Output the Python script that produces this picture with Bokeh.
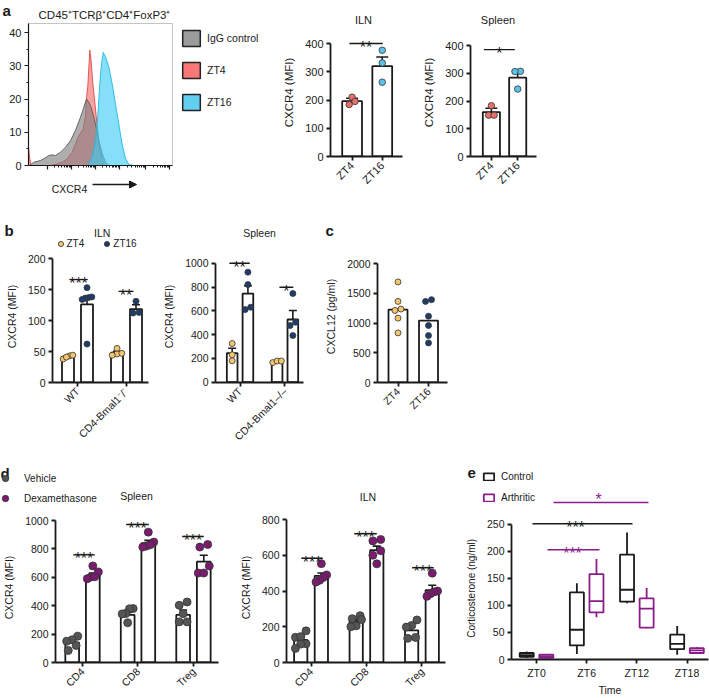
import math
from bokeh.plotting import figure
from bokeh.layouts import row, column
from bokeh.models import (Label, Legend, LegendItem, FixedTicker, Range1d,
                          Whisker, TeeHead, ColumnDataSource, Arrow, NormalHead)
from bokeh.embed import file_html
from bokeh.resources import INLINE

# ======================= DATA =======================
# a - flow cytometry histogram (CXCR4 channel, counts)
hist_igg_x = [9, 37, 83, 106, 141, 164, 188, 222, 257, 292, 326, 361, 384, 403, 419, 435, 454, 470, 488, 512, 535, 558]
hist_igg_y = [0, 1, 1.5, 2, 3, 3.2, 3, 4, 5.5, 7.5, 10.5, 14.5, 17.5, 20, 19, 17.5, 14.5, 11.5, 7.5, 3.5, 1, 0]
hist_zt4_x = [0, 9, 19, 153, 199, 234, 269, 303, 326, 350, 380, 396, 403, 412, 426, 435, 444, 458, 477, 493, 512, 528]
hist_zt4_y = [5.5, 2, 0, 0, 0.5, 1, 2, 4, 6.5, 9, 11, 15, 20.5, 24, 34.7, 31.5, 26, 20, 12, 5.5, 1.5, 0]
hist_zt16_x = [412, 442, 465, 481, 495, 507, 519, 535, 558, 581, 604, 627, 650, 674, 697, 731, 1000]
hist_zt16_y = [0, 2.5, 7.5, 14.5, 24.6, 30.6, 34, 32.7, 29.6, 24.6, 18.6, 12.5, 6.5, 2, 0.3, 0, 0]
hist_names = ["IgG control", "ZT4", "ZT16"]

# a - CXCR4 MFI
a_times = ["ZT4", "ZT16"]
a_iln_mean = [196, 320]
a_iln_sem = [10, 32]
a_iln_points = [[184, 210, 195], [376, 331, 263]]
a_spleen_mean = [160, 284]
a_spleen_sem = [14, 24]
a_spleen_points = [[183, 149, 149], [307, 306, 243]]

# b - WT vs CD4-Bmal1 KO
b_series = ["ZT4", "ZT16"]
b_iln_genotypes = ["WT", "CD4-Bmal1\u207b/\u207b"]
b_spleen_genotypes = ["WT", "CD4-Bmal1\u2013/\u2013"]
b_iln_zt4_mean = [41.5, 48]
b_iln_zt4_sem = [1.5, 2.5]
b_iln_zt16_mean = [126, 118.5]
b_iln_zt16_sem = [13, 7]
b_iln_zt4_points = [[38, 43, 44, 41], [55, 46, 47, 44]]
b_iln_zt16_points = [[62, 153, 137, 138, 136, 134], [131, 113, 112]]
b_spleen_zt4_mean = [245, 172]
b_spleen_zt4_sem = [40, 5]
b_spleen_zt16_mean = [745, 527]
b_spleen_zt16_sem = [65, 75]
b_spleen_zt4_points = [[325, 230, 180], [165, 178, 178]]
b_spleen_zt16_points = [[925, 820, 610, 630], [745, 504, 476, 392]]

# c - CXCL12
c_times = ["ZT4", "ZT16"]
c_mean = [1225, 1040]
c_points = [[1690, 1363, 1211, 1234, 1082, 834], [1363, 1392, 1115, 958, 789, 665]]

# d - vehicle vs dexamethasone
d_series = ["Vehicle", "Dexamethasone"]
d_cells = ["CD4", "CD8", "Treg"]
d_spleen_veh_mean = [140, 335, 335]
d_spleen_veh_sem = [18, 18, 35]
d_spleen_dex_mean = [612, 840, 710]
d_spleen_dex_sem = [18, 20, 45]
d_spleen_veh_points = [[185, 160, 150, 120, 85], [380, 378, 345, 342, 280], [426, 403, 344, 286, 286]]
d_spleen_dex_points = [[680, 637, 602, 603, 590], [918, 848, 820, 829, 813], [813, 831, 680, 630, 630]]
d_iln_veh_mean = [127, 229, 180]
d_iln_veh_sem = [15, 12, 20]
d_iln_dex_mean = [485, 629, 405]
d_iln_dex_sem = [16, 22, 27]
d_iln_veh_points = [[177, 141, 144, 105, 103, 79], [262, 245, 240, 205, 200], [238, 207, 198, 140, 135]]
d_iln_dex_points = [[553, 490, 475, 460, 450], [680, 688, 625, 600, 552], [500, 400, 395, 385, 370]]

# e - corticosterone box plots: [min, q1, median, q3, max]
e_times = ["ZT0", "ZT6", "ZT12", "ZT18"]
e_groups = ["Control", "Arthritic"]
e_control = [[3, 5, 8, 12, 15], [10, 26, 55, 124, 141], [104, 107, 129, 194, 235], [9, 19, 29, 46, 62]]
e_arthritic = [[2, 3, 6, 9, 10], [78, 87, 108, 158, 186], [58, 59, 94, 113, 132], [10, 12, 17, 21, 23]]

# ======================= STYLE / LAYOUT =======================
FONT = "Liberation Sans"
INK = "#1a1a1a"
PURPLE = "#8a1d8a"
RED_DOT, BLUE_DOT = "#e8706c", "#5cc2ea"
YEL, NAVY = "#f3c56e", "#1f3d6b"
GREY_DOT, DEX = "#555555", "#7b1b6f"
FAR = -1.0e7   # legend-only renderers live far outside every visible range


class Panel:
    """Maps page-pixel geometry to a Bokeh figure with axes."""

    def __init__(self, fig_box, frame_box, xcal, ycal):
        self.fb, self.gb = fig_box, frame_box
        (px0, vx0), (px1, vx1) = xcal
        (py0, vy0), (py1, vy1) = ycal
        self.kx = (vx1 - vx0) / (px1 - px0)
        self.ky = (vy1 - vy0) / (py1 - py0)
        self.px0, self.vx0, self.py0, self.vy0 = px0, vx0, py0, vy0

    def X(self, px):
        return self.vx0 + (px - self.px0) * self.kx

    def Y(self, py):
        return self.vy0 + (py - self.py0) * self.ky

    def ux(self, dpx):
        return dpx * abs(self.kx)

    def fig(self):
        fx0, fy0, fx1, fy1 = self.fb
        gx0, gy0, gx1, gy1 = self.gb
        W, H = fx1 - fx0, fy1 - fy0
        left, top = gx0 - fx0, gy0 - fy0
        fw, fh = gx1 - gx0, gy1 - gy0
        p = figure(width=W, height=H, output_backend="svg", toolbar_location=None,
                   x_range=Range1d(self.X(gx0), self.X(gx1)),
                   y_range=Range1d(self.Y(gy1), self.Y(gy0)),
                   min_border_left=left, min_border_top=top,
                   min_border_right=W - left - fw, min_border_bottom=H - top - fh)
        p.grid.visible = False
        p.outline_line_color = None
        p.background_fill_color = None
        p.border_fill_color = None
        for ax in p.axis:
            ax.axis_line_color = INK
            ax.axis_line_width = 1.8
            ax.major_tick_line_color = INK
            ax.major_tick_line_width = 1.8
            ax.major_tick_out = 4
            ax.major_tick_in = 0
            ax.minor_tick_line_color = None
            ax.major_label_text_font = FONT
            ax.major_label_text_font_size = "10.5px"
            ax.major_label_text_color = INK
            ax.major_label_standoff = 3
            ax.axis_label_text_font = FONT
            ax.axis_label_text_font_size = "10.5px"
            ax.axis_label_text_font_style = "normal"
            ax.axis_label_text_color = INK
            ax.axis_label_standoff = 7
        return p


class TextArea:
    """A blank figure whose frame is a page rectangle, used for titles and legends."""

    def __init__(self, x0, y0, x1, y1):
        self.box = (x0, y0, x1, y1)
        t = figure(width=x1 - x0, height=y1 - y0, output_backend="svg",
                   toolbar_location=None, x_range=Range1d(x0, x1), y_range=Range1d(y1, y0),
                   x_axis_type=None, y_axis_type=None, min_border_left=0,
                   min_border_right=0, min_border_top=0, min_border_bottom=0)
        t.outline_line_color = None
        t.background_fill_color = None
        t.border_fill_color = None
        self.p = t

    def text(self, x, y, s, size=10.5, align="center", bold=False, color=INK):
        self.p.add_layout(Label(x=x, y=y, text=s, text_font=FONT, text_font_size=f"{size}px",
                                text_align=align, text_baseline="alphabetic", text_color=color,
                                text_font_style="bold" if bold else "normal"))

    def legend(self, items, left, top, orientation="vertical", gw=20, gh=20, spacing=10,
               standoff=5, size="10px"):
        x0, y0, x1, y1 = self.box
        n = len(items)
        h = n * gh + (n - 1) * spacing if orientation == "vertical" else gh
        lg = Legend(items=[LegendItem(label=t, renderers=[r]) for t, r in items],
                    location=(left - x0, (y1 - top) - h), orientation=orientation,
                    glyph_width=gw, glyph_height=gh, spacing=spacing,
                    label_standoff=standoff, padding=0, margin=0, border_line_color=None,
                    background_fill_alpha=0, label_text_font=FONT, label_text_font_size=size,
                    label_text_color=INK, label_height=min(gh, 10), label_width=0)
        self.p.add_layout(lg)

    def quad(self, fill, line, lw):
        return self.p.quad(left=[FAR], right=[FAR + 1], top=[FAR + 1], bottom=[FAR],
                           fill_color=fill, line_color=line, line_width=lw)

    def dot(self, fill, size):
        return self.p.scatter(x=[FAR], y=[FAR], size=size, fill_color=fill,
                              line_color="#333333", line_width=0.8)


def sig(p, x0, x1, y, stars, color=INK, tx=None, size=16, star_y=None):
    p.segment(x0=[x0], y0=[y], x1=[x1], y1=[y], line_color=color, line_width=1.4)
    if star_y is None:
        lab = Label(x=(x0 + x1) / 2 if tx is None else tx, y=y, text=stars,
                    text_font=FONT, text_font_size=f"{size}px", text_align="center",
                    text_baseline="alphabetic", y_offset=-4, text_color=color)
    else:
        lab = Label(x=(x0 + x1) / 2 if tx is None else tx, y=star_y, text=stars,
                    text_font=FONT, text_font_size=f"{size}px", text_align="center",
                    text_baseline="middle", text_color=color)
    p.add_layout(lab)


def swarm(vals, px_per_unit, diam, max_half):
    order = sorted(range(len(vals)), key=lambda i: vals[i])
    rows = []
    for i in order:
        if rows and (vals[i] - vals[rows[-1][0]]) * px_per_unit < diam * 0.9:
            rows[-1].append(i)
        else:
            rows.append([i])
    offs = [0.0] * len(vals)
    for r in rows:
        n = len(r)
        if n == 1:
            continue
        step = min(diam, 2 * max_half / (n - 1))
        for j, i in enumerate(r):
            offs[i] = (j - (n - 1) / 2) * step
    return offs


def bar_set(p, F, xs, means, sems, points, dot_color, bar_w_px, dot_px,
            cap_px=9, dot_line="#333333"):
    bw = F.ux(bar_w_px)
    p.vbar(x=xs, top=means, bottom=0, width=bw, fill_color="white",
           line_color=INK, line_width=1.8)
    if sems is not None:
        src = ColumnDataSource(dict(x=xs, lo=means, hi=[m + s for m, s in zip(means, sems)]))
        p.add_layout(Whisker(source=src, base="x", lower="lo", upper="hi",
                             line_color=INK, line_width=1.6,
                             upper_head=TeeHead(size=cap_px, line_color=INK, line_width=1.6),
                             lower_head=None))
    ppu = 1 / abs(F.ky)
    for x, vals in zip(xs, points):
        offs = swarm(vals, ppu, dot_px, bar_w_px * 0.4)
        p.scatter(x=[x + F.ux(o) for o in offs], y=vals, size=dot_px,
                  fill_color=dot_color, line_color=dot_line, line_width=0.8)


def cat_axis(p, labels, rotate=True):
    p.xaxis.ticker = FixedTicker(ticks=list(range(1, len(labels) + 1)))
    p.xaxis.major_label_overrides = {i + 1: lab for i, lab in enumerate(labels)}
    if rotate:
        p.xaxis.major_label_orientation = math.pi / 4


# ================= ROW 1 : panel a =================
TA_head = TextArea(0, 0, 280, 22)
TA_head.text(2, 10, "a", size=15, align="left", bold=True)
TA_head.text(104, 14.5, "CD45\u207aTCR\u03b2\u207aCD4\u207aFoxP3\u207a", size=11.5)

FA1 = Panel((0, 22, 178, 180), (28, 23, 172, 165), ((28, 0), (172, 1000)), ((165, 0), (32, 40)))
pA1 = FA1.fig()
pA1.outline_line_color = "#c4c4c4"
pA1.outline_line_width = 1
pA1.varea(x=hist_zt4_x, y1=0, y2=hist_zt4_y, fill_color="#f26b6b", fill_alpha=0.62)
pA1.line(hist_zt4_x, hist_zt4_y, line_color="#e04848", line_width=0.9)
pA1.varea(x=hist_igg_x, y1=0, y2=hist_igg_y, fill_color="#7d7d7d", fill_alpha=0.62)
pA1.line(hist_igg_x, hist_igg_y, line_color="#5a5a5a", line_width=0.9)
pA1.varea(x=hist_zt16_x, y1=0, y2=hist_zt16_y, fill_color="#3ccbf4", fill_alpha=0.62)
pA1.line(hist_zt16_x, hist_zt16_y, line_color="#25b5e0", line_width=0.9)
majors = [130, 300, 465, 630, 815, 980]
minors = []
for a, b in zip(majors[:-1], majors[1:]):
    minors += [a + math.log10(k) * (b - a) for k in range(2, 10)]
pA1.xaxis.ticker = FixedTicker(ticks=majors, minor_ticks=minors)
pA1.xaxis.major_label_overrides = {t: "" for t in majors}
pA1.xaxis.major_label_text_font_size = "8px"
pA1.xaxis.major_label_standoff = 0
pA1.xaxis.minor_tick_line_color = INK
pA1.xaxis.minor_tick_out = 2
pA1.xaxis.minor_tick_in = 0
pA1.xaxis.major_tick_line_width = 1.2
pA1.xaxis.minor_tick_line_width = 1
pA1.xaxis.axis_line_width = 1.2
pA1.yaxis.ticker = FixedTicker(ticks=[0, 10, 20, 30, 40], minor_ticks=[5, 15, 25, 35])
pA1.yaxis.minor_tick_line_color = INK
pA1.yaxis.minor_tick_out = 2
pA1.yaxis.minor_tick_in = 0
pA1.yaxis.axis_line_width = 1.2
pA1.yaxis.major_tick_line_width = 1.2
pA1.yaxis.major_label_text_font_size = "11px"

TA_arrow = TextArea(0, 180, 178, 200)
TA_arrow.text(69, 188, "CXCR4", size=10.5)
TA_arrow.p.add_layout(Arrow(end=NormalHead(size=7, fill_color=INK, line_color=INK),
                            x_start=92, y_start=184, x_end=136, y_end=184,
                            line_color=INK, line_width=1.5))

TA_leg = TextArea(178, 22, 280, 200)
leg_cols = ["#9b9b9b", "#f87878", "#62cff0"]
TA_leg.legend(list(zip(hist_names, [TA_leg.quad(c, "#222222", 1.5) for c in leg_cols])),
              180, 28, gw=22, gh=20, spacing=12, standoff=5, size="10.5px")

TA2_head = TextArea(280, 0, 420, 28)
TA2_head.text(363, 19.3, "ILN", size=11)
FA2 = Panel((280, 28, 420, 200), (322, 28, 402, 156), ((346, 1), (379.5, 2)), ((156, 0), (43, 400)))
pA2 = FA2.fig()
for i, col in enumerate([RED_DOT, BLUE_DOT]):
    bar_set(pA2, FA2, [i + 1], [a_iln_mean[i]], [a_iln_sem[i]], [a_iln_points[i]], col, 22, 6.5, cap_px=12)
cat_axis(pA2, a_times)
pA2.yaxis.ticker = FixedTicker(ticks=[0, 100, 200, 300, 400])
pA2.yaxis.bounds = (0, 400)
pA2.yaxis.axis_label = "CXCR4 (MFI)"
pA2.yaxis.axis_label_text_font_size = "11.5px"
pA2.yaxis.major_label_text_font_size = "11px"
pA2.xaxis.major_label_text_font_size = "11px"
sig(pA2, FA2.X(343), FA2.X(380), 400, "**")

TA3_head = TextArea(420, 0, 709, 28)
TA3_head.text(497.5, 19.3, "Spleen", size=11)
FA3 = Panel((420, 28, 709, 200), (457, 28, 536, 156), ((482, 1), (513.5, 2)), ((156, 0), (45, 400)))
pA3 = FA3.fig()
for i, col in enumerate([RED_DOT, BLUE_DOT]):
    bar_set(pA3, FA3, [i + 1], [a_spleen_mean[i]], [a_spleen_sem[i]], [a_spleen_points[i]], col, 20.5, 6.5, cap_px=12)
cat_axis(pA3, a_times)
pA3.yaxis.ticker = FixedTicker(ticks=[0, 100, 200, 300, 400])
pA3.yaxis.bounds = (0, 400)
pA3.yaxis.axis_label = "CXCR4 (MFI)"
pA3.yaxis.axis_label_text_font_size = "11.5px"
pA3.yaxis.major_label_text_font_size = "11px"
pA3.xaxis.major_label_text_font_size = "11px"
sig(pA3, FA3.X(473), FA3.X(510), 385, "*")

# ================= ROW 2 : panels b, c =================
TB1_head = TextArea(0, 200, 160, 250)
TB1_head.text(4, 230, "b", size=15, align="left", bold=True)
TB1_head.text(101.7, 232.7, "ILN", size=10.5)
TB1_head.legend(list(zip(b_series, [TB1_head.dot(YEL, 6), TB1_head.dot(NAVY, 6)])), 53.5, 236.5,
                orientation="horizontal", gw=13, gh=13, spacing=16, standoff=0, size="10px")
FB1 = Panel((0, 250, 160, 455), (52, 250, 148, 382), ((77, 1), (126, 2)), ((382, 0), (258, 200)))
pB1 = FB1.fig()
off = FB1.ux(9.5)
bar_set(pB1, FB1, [1 - off, 2 - off], b_iln_zt4_mean, b_iln_zt4_sem, b_iln_zt4_points, YEL, 12, 6, cap_px=8)
bar_set(pB1, FB1, [1 + off, 2 + off], b_iln_zt16_mean, b_iln_zt16_sem, b_iln_zt16_points, NAVY, 12, 6, cap_px=8)
cat_axis(pB1, b_iln_genotypes)
pB1.yaxis.ticker = FixedTicker(ticks=[0, 50, 100, 150, 200])
pB1.yaxis.bounds = (0, 200)
pB1.yaxis.axis_label = "CXCR4 (MFI)"
sig(pB1, FB1.X(69), FB1.X(87), 166, "***")
sig(pB1, FB1.X(118), FB1.X(133), 147, "**")

TB2_head = TextArea(160, 200, 320, 250)
TB2_head.text(259, 232.7, "Spleen", size=10.5)
FB2 = Panel((160, 250, 320, 455), (208, 250, 303, 382), ((234.5, 1), (283, 2)), ((381.7, 0), (262.7, 1000)))
pB2 = FB2.fig()
off = FB2.ux(8.5)
bar_set(pB2, FB2, [1 - off, 2 - off], b_spleen_zt4_mean, b_spleen_zt4_sem, b_spleen_zt4_points, YEL, 11.5, 6, cap_px=8)
bar_set(pB2, FB2, [1 + off, 2 + off], b_spleen_zt16_mean, b_spleen_zt16_sem, b_spleen_zt16_points, NAVY, 11.5, 6, cap_px=8)
cat_axis(pB2, b_spleen_genotypes)
pB2.yaxis.ticker = FixedTicker(ticks=[0, 200, 400, 600, 800, 1000])
pB2.yaxis.bounds = (0, 1000)
pB2.yaxis.axis_label = "CXCR4 (MFI)"
sig(pB2, FB2.X(223), FB2.X(245), 1000, "**")
sig(pB2, FB2.X(277), FB2.X(292), 798, "*")

TC_head = TextArea(320, 200, 709, 250)
TC_head.text(325, 230, "c", size=15, align="left", bold=True)
FC = Panel((320, 250, 709, 455), (377, 250, 447, 382), ((397.5, 1), (428, 2)), ((382, 0), (263, 2000)))
pC = FC.fig()
for i, col in enumerate([YEL, NAVY]):
    bar_set(pC, FC, [i + 1], [c_mean[i]], None, [c_points[i]], col, 19, 6)
cat_axis(pC, c_times)
pC.yaxis.ticker = FixedTicker(ticks=[0, 500, 1000, 1500, 2000])
pC.yaxis.bounds = (0, 2000)
pC.yaxis.axis_label = "CXCL12 (pg/ml)"

# ================= ROW 3 : panels d, e =================
TD_head = TextArea(0, 455, 460, 512)
TD_head.text(0, 473, "d", size=15, align="left", bold=True)
TD_head.text(136, 495, "Spleen", size=10.5)
TD_head.text(367.5, 496.7, "ILN", size=10.5)
TD_head.legend(list(zip(d_series, [TD_head.dot(GREY_DOT, 8), TD_head.dot(DEX, 8)])), -3, 470,
               gw=16, gh=16, spacing=4, standoff=11, size="10px")

xs = [1, 2, 3]
FD1 = Panel((0, 512, 236, 698), (52, 512, 218, 662), ((79.5, 1), (192.5, 3)), ((662, 0), (520, 1000)))
pD1 = FD1.fig()
off = FD1.ux(10.5)
bar_set(pD1, FD1, [x - off for x in xs], d_spleen_veh_mean, d_spleen_veh_sem, d_spleen_veh_points, GREY_DOT, 14, 8, cap_px=8)
bar_set(pD1, FD1, [x + off for x in xs], d_spleen_dex_mean, d_spleen_dex_sem, d_spleen_dex_points, DEX, 14, 8, cap_px=8)
cat_axis(pD1, d_cells)
pD1.yaxis.ticker = FixedTicker(ticks=[0, 200, 400, 600, 800, 1000])
pD1.yaxis.bounds = (0, 1000)
pD1.yaxis.axis_label = "CXCR4 (MFI)"
sig(pD1, FD1.X(70), FD1.X(92), 758, "***")
sig(pD1, FD1.X(124), FD1.X(147), 972, "***")
sig(pD1, FD1.X(181), FD1.X(203), 887, "***")

FD2 = Panel((236, 512, 460, 698), (283, 512, 445, 662), ((308, 1), (421, 3)), ((662, 0), (519, 800)))
pD2 = FD2.fig()
off = FD2.ux(10.5)
bar_set(pD2, FD2, [x - off for x in xs], d_iln_veh_mean, d_iln_veh_sem, d_iln_veh_points, GREY_DOT, 13.5, 8, cap_px=8)
bar_set(pD2, FD2, [x + off for x in xs], d_iln_dex_mean, d_iln_dex_sem, d_iln_dex_points, DEX, 13.5, 8, cap_px=8)
cat_axis(pD2, d_cells)
pD2.yaxis.ticker = FixedTicker(ticks=[0, 200, 400, 600, 800])
pD2.yaxis.bounds = (0, 800)
pD2.yaxis.axis_label = "CXCR4 (MFI)"
sig(pD2, FD2.X(298), FD2.X(320), 583, "***")
sig(pD2, FD2.X(352), FD2.X(375), 720, "***")
sig(pD2, FD2.X(411), FD2.X(433), 530, "***")

TE_head = TextArea(460, 455, 709, 514)
TE_head.text(467, 472.7, "e", size=15, align="left", bold=True)
TE_head.legend(list(zip(e_groups, [TE_head.quad("white", INK, 1.8), TE_head.quad("white", PURPLE, 1.8)])),
               482, 475, gw=13, gh=9, spacing=10, standoff=6, size="10px")
sig(TE_head.p, 553, 648, 502, "*", color=PURPLE, tx=598, star_y=499)

FE = Panel((460, 514, 709, 698), (511, 514, 708, 662), ((536, 1), (686.5, 4)), ((662, 0), (524, 250)))
pE = FE.fig()
eoff = FE.ux(9.8)
bw = FE.ux(14)
for stats, col, sgn in [(e_control, INK, -1), (e_arthritic, PURPLE, 1)]:
    xs_e = [i + 1 + sgn * eoff for i in range(len(stats))]
    mins = [s[0] for s in stats]
    q1 = [s[1] for s in stats]
    med = [s[2] for s in stats]
    q3 = [s[3] for s in stats]
    mx = [s[4] for s in stats]
    pE.segment(x0=xs_e, y0=q3, x1=xs_e, y1=mx, line_color=col, line_width=1.8)
    pE.segment(x0=xs_e, y0=mins, x1=xs_e, y1=q1, line_color=col, line_width=1.8)
    pE.vbar(x=xs_e, top=q3, bottom=q1, width=bw, fill_color="white",
            line_color=col, line_width=1.8)
    pE.segment(x0=[x - bw / 2 for x in xs_e], y0=med, x1=[x + bw / 2 for x in xs_e],
               y1=med, line_color=col, line_width=1.8)
cat_axis(pE, e_times, rotate=False)
pE.yaxis.ticker = FixedTicker(ticks=[0, 50, 100, 150, 200, 250])
pE.yaxis.bounds = (0, 250)
pE.yaxis.axis_label = "Corticosterone  (ng/ml)"
pE.yaxis.axis_label_text_font_size = "10px"
pE.xaxis.axis_label = "Time"
pE.xaxis.axis_label_standoff = 2
pE.xaxis.axis_label_text_font_size = "10.5px"
sig(pE, FE.X(532), FE.X(632), 251, "***", tx=FE.X(575))
sig(pE, FE.X(547), FE.X(599), 203, "***", color=PURPLE, tx=FE.X(572))


# ================= assemble (each figure wrapped in its own row so frames are not re-aligned) =================
def box(f):
    return row(f, spacing=0)


colA1 = column(box(TA_head.p),
               row(column(box(pA1), box(TA_arrow.p), spacing=0), box(TA_leg.p), spacing=0),
               spacing=0)
colA2 = column(box(TA2_head.p), box(pA2), spacing=0)
colA3 = column(box(TA3_head.p), box(pA3), spacing=0)
row1 = row(colA1, colA2, colA3, spacing=0)
row2 = row(column(box(TB1_head.p), box(pB1), spacing=0),
           column(box(TB2_head.p), box(pB2), spacing=0),
           column(box(TC_head.p), box(pC), spacing=0), spacing=0)
row3 = row(column(box(TD_head.p), row(pD1, pD2, spacing=0), spacing=0),
           column(box(TE_head.p), box(pE), spacing=0), spacing=0)
layout = column(row1, row2, row3, spacing=0)

with open("out.html", "w") as f:
    f.write(file_html(layout, INLINE, "Figure"))
